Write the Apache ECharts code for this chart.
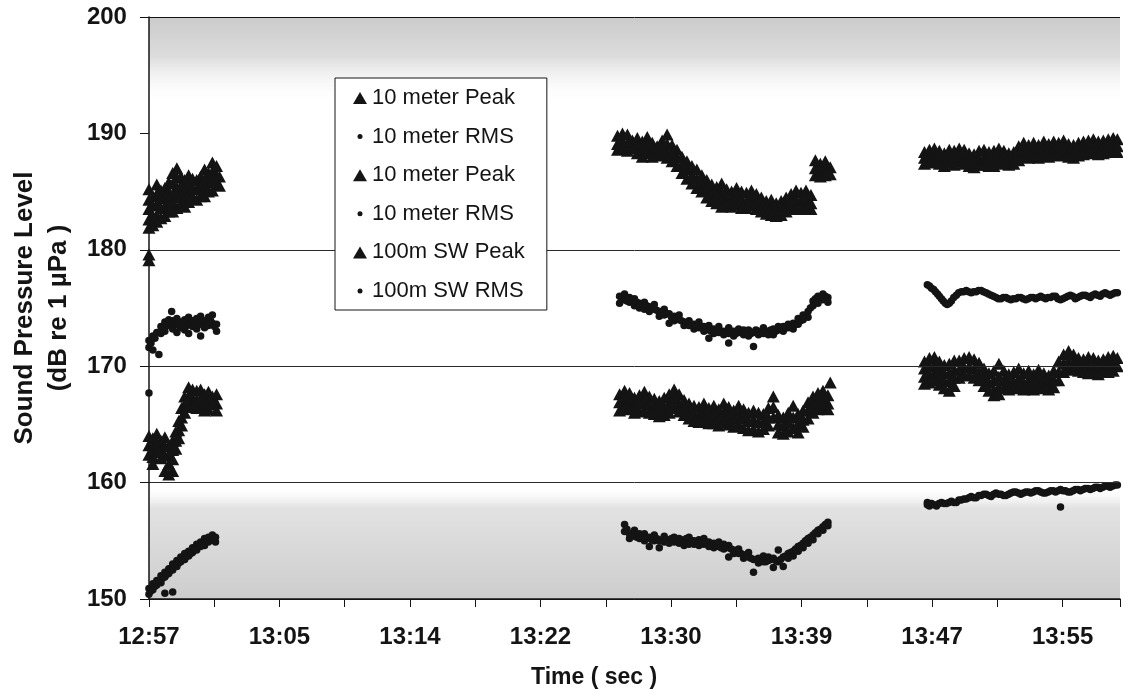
<!DOCTYPE html>
<html>
<head>
<meta charset="utf-8">
<script src="https://cdn.jsdelivr.net/npm/echarts@6/dist/echarts.min.js"></script>
<style>
  html, body { margin: 0; background: #fff; }
  #chart { width: 1123px; height: 696px; }
</style>
</head>
<body>
<div id="chart"></div>
<script>
// time axis in seconds from 12:57, one label every 500 s
const timeLabels = ["12:57", "13:05", "13:14", "13:22", "13:30", "13:39", "13:47", "13:55"];
const xMin = 0;
const xMax = 3720;

const seriesIds = ["peak10a", "rms10a", "peak10b", "rms10b", "peak100", "rms100"];
const legendLabels = ["10 meter Peak", "10 meter RMS", "10 meter Peak", "10 meter RMS", "100m SW Peak", "100m SW RMS"];

// rows: [time, level, level, ...]
const peakUpperSeg1 = [
  [0, 185.2, 184.3, 183.5, 182.6, 181.9, 179.6, 179.1], [15, 184.6, 183.8, 182.9, 182.1],
  [30, 185.6, 184.8, 183.9, 183.0, 182.4], [46, 185.1, 184.4, 183.6, 182.7],
  [61, 185.3, 184.5, 183.7, 182.9], [76, 185.8, 185.0, 184.2, 183.3],
  [91, 186.6, 185.7, 184.8, 184.0, 183.3], [107, 187.0, 186.2, 185.3, 184.5, 183.6],
  [122, 186.3, 185.5, 184.7, 183.9], [137, 186.0, 185.2, 184.4, 183.7],
  [152, 186.4, 185.6, 184.8, 184.1], [167, 186.1, 185.3, 184.6], [183, 186.0, 185.2, 184.3],
  [198, 186.3, 185.5, 184.6], [213, 186.9, 186.0, 185.2, 184.6], [228, 186.6, 185.8, 185.0],
  [243, 187.5, 186.7, 185.9, 185.1], [259, 187.2, 186.4, 185.6], [270, 186.3, 185.5]
];
const rmsUpperSeg1 = [
  [0, 171.6, 172.2, 167.7], [8, 172.0], [15, 172.6, 171.4], [23, 172.4], [30, 172.9], [38, 171.0],
  [46, 173.4, 172.8], [53, 173.1], [61, 173.8, 173.0], [68, 173.6], [76, 173.5, 174.0], [87, 174.7, 173.4],
  [91, 173.2, 173.9], [99, 173.6], [107, 173.6, 174.1, 172.9], [114, 173.5], [122, 173.8, 173.3],
  [130, 173.7], [137, 174.0, 173.1], [145, 173.5], [152, 173.7, 174.2, 172.8], [160, 173.6],
  [167, 173.4, 173.9], [175, 173.8], [183, 174.1, 173.2], [190, 173.7], [198, 173.6, 174.3, 172.6],
  [205, 173.8], [213, 173.9, 173.3], [220, 173.7], [228, 174.2, 173.5], [236, 173.9],
  [243, 173.7, 174.4], [251, 173.4], [259, 173.6, 173.0]
];
const peakLowerSeg1 = [
  [0, 164.0, 163.2, 162.4], [15, 163.8, 163.0, 162.2, 161.6], [30, 164.2, 163.4, 162.6],
  [46, 163.6, 162.8, 162.1], [61, 163.9, 163.1, 162.3, 161.0], [76, 163.2, 162.4, 161.6, 160.7],
  [91, 163.6, 162.8, 162.0, 161.0], [103, 164.4, 163.6, 162.9], [114, 165.3, 164.5, 163.8],
  [125, 166.4, 165.6, 164.9], [137, 167.4, 166.7, 166.0], [152, 168.2, 167.4, 166.6],
  [167, 168.0, 167.2, 166.5], [183, 167.9, 167.1, 166.4], [198, 168.0, 167.2, 166.5],
  [213, 167.6, 166.8, 166.2], [228, 167.8, 167.0, 166.3], [243, 167.4, 166.7],
  [259, 167.6, 166.8, 166.2]
];
const rmsLowerSeg1 = [
  [0, 150.4, 150.9], [8, 150.7], [15, 150.8, 151.3], [23, 151.1], [30, 151.2, 151.6], [38, 151.5],
  [46, 151.4, 152.0], [53, 151.8], [61, 151.9, 152.3, 150.5], [68, 152.1], [76, 152.2, 152.6],
  [84, 152.5], [91, 152.5, 153.0, 150.6], [99, 152.8], [107, 152.8, 153.3], [114, 153.1],
  [122, 153.2, 153.6], [130, 153.4], [137, 153.4, 153.9], [145, 153.7], [152, 153.7, 154.1],
  [160, 153.9], [167, 154.0, 154.4], [175, 154.3], [183, 154.2, 154.7], [190, 154.5],
  [198, 154.5, 154.9], [205, 154.7], [213, 154.6, 155.2], [220, 155.0], [228, 154.9, 155.3],
  [236, 155.1], [243, 155.1, 155.5], [255, 154.9, 155.3]
];

const peakUpperSeg2 = [
  [1795, 189.8, 189.1, 188.6], [1814, 190.0, 189.3, 188.7], [1833, 189.9, 189.2, 188.5],
  [1852, 189.4, 188.7], [1871, 189.6, 188.9, 188.3], [1890, 189.3, 188.6, 188.0],
  [1909, 189.7, 189.0, 188.3], [1928, 189.2, 188.5, 188.0], [1947, 188.9, 188.2],
  [1966, 189.4, 188.7, 188.1], [1985, 189.9, 189.1, 188.4, 187.9], [2004, 189.0, 188.3, 187.6],
  [2023, 188.6, 187.9, 187.2], [2042, 188.0, 187.3, 186.6], [2061, 187.6, 186.9, 186.1],
  [2080, 187.2, 186.4, 185.7], [2099, 186.9, 186.1, 185.3], [2118, 186.4, 185.7, 185.0],
  [2137, 186.0, 185.3, 184.5], [2156, 185.6, 184.9, 184.2], [2175, 185.4, 184.7, 184.0],
  [2194, 185.7, 184.9, 184.2, 183.7], [2213, 185.2, 184.5, 183.9], [2232, 185.0, 184.3, 183.7],
  [2251, 185.3, 184.6, 183.9], [2270, 185.0, 184.3, 183.6], [2289, 184.9, 184.2, 183.6],
  [2308, 185.1, 184.4, 183.8], [2327, 184.8, 184.1, 183.5], [2346, 184.5, 183.8, 183.3],
  [2365, 184.2, 183.6, 183.1], [2384, 184.3, 183.6, 183.0], [2403, 184.0, 183.4, 182.9],
  [2422, 184.2, 183.5, 183.0], [2441, 184.5, 183.8, 183.3], [2460, 184.8, 184.1, 183.5],
  [2479, 185.1, 184.3, 183.6], [2498, 184.9, 184.2, 183.5], [2517, 185.1, 184.4, 183.7],
  [2536, 184.7, 184.0, 183.5], [2553, 187.7, 187.0, 186.4], [2572, 187.4, 186.7, 186.3],
  [2591, 187.6, 186.9, 186.4], [2610, 187.1, 186.5]
];
const rmsUpperSeg2 = [
  [1803, 176.0, 175.4], [1812, 175.8], [1822, 175.7, 176.2], [1831, 175.6], [1841, 175.5, 175.9],
  [1850, 175.7], [1860, 175.8, 175.2], [1869, 175.5], [1879, 175.4, 175.0], [1888, 175.3],
  [1898, 175.5, 174.9], [1907, 175.2], [1917, 175.1, 174.7], [1926, 175.0], [1936, 174.9, 175.3],
  [1945, 174.8], [1955, 174.7, 174.3], [1964, 174.6], [1974, 174.4, 174.9], [1983, 174.5],
  [1993, 174.5, 173.7], [2002, 174.2], [2012, 174.3, 173.9], [2021, 174.1], [2031, 174.0, 174.4],
  [2040, 173.9], [2050, 173.8, 173.5], [2059, 173.7], [2069, 173.9, 173.5], [2078, 173.6],
  [2088, 173.6, 173.2], [2097, 173.5], [2107, 173.3, 173.8], [2116, 173.4], [2126, 173.4, 173.0],
  [2135, 173.2], [2145, 173.1, 173.5, 172.4], [2154, 173.0], [2164, 173.2, 172.8], [2173, 173.1],
  [2183, 172.9, 173.4], [2192, 173.0], [2202, 173.0, 172.7], [2211, 172.9], [2221, 172.8, 173.3, 172.0],
  [2230, 173.0], [2240, 173.0, 172.6], [2249, 172.8], [2259, 172.9, 173.2], [2268, 172.9],
  [2278, 172.7, 173.1], [2287, 172.9], [2297, 173.1, 172.6], [2306, 172.8], [2316, 172.9, 171.7],
  [2325, 173.1], [2335, 173.0, 172.7], [2344, 172.9], [2354, 172.8, 173.3], [2363, 173.0],
  [2373, 173.0, 172.7], [2382, 173.1], [2392, 173.2, 172.7], [2401, 173.0], [2411, 173.1, 173.4],
  [2420, 173.2], [2430, 173.4, 173.0], [2439, 173.3], [2449, 173.3, 173.6], [2458, 173.5],
  [2468, 173.7, 173.2], [2477, 173.6], [2487, 173.6, 174.1], [2496, 173.9], [2506, 174.0, 174.4],
  [2515, 174.3], [2525, 174.7, 174.2], [2534, 175.0], [2544, 175.6, 175.2], [2553, 175.8],
  [2563, 176.0, 175.4], [2572, 175.9], [2582, 175.7, 176.2], [2591, 176.0], [2601, 175.9, 175.5]
];
const peakLowerSeg2 = [
  [1803, 167.6, 166.9, 166.2], [1822, 167.9, 167.2, 166.5], [1841, 167.7, 167.0, 166.3],
  [1860, 167.3, 166.6, 166.0], [1879, 167.5, 166.8, 166.1], [1898, 167.8, 167.0, 166.2],
  [1917, 167.4, 166.7, 166.0], [1936, 167.2, 166.5, 165.9], [1955, 167.0, 166.3, 165.7],
  [1974, 167.3, 166.5, 165.8], [1993, 167.6, 166.8, 166.0], [2012, 168.0, 167.2, 166.4],
  [2031, 167.6, 166.8, 166.1], [2050, 167.1, 166.4, 165.8], [2069, 166.8, 166.1, 165.5],
  [2088, 166.6, 165.9, 165.3], [2107, 166.5, 165.8, 165.2], [2126, 166.8, 166.0, 165.3],
  [2145, 166.4, 165.7, 165.1], [2164, 166.6, 165.8, 165.1], [2183, 166.3, 165.6, 164.9],
  [2202, 166.8, 166.0, 165.2], [2221, 166.5, 165.7, 165.0], [2240, 166.2, 165.5, 164.8],
  [2259, 166.6, 165.8, 165.0], [2278, 166.3, 165.5, 164.7], [2297, 166.0, 165.3, 164.5],
  [2316, 166.2, 165.4, 164.6], [2335, 166.0, 165.2, 164.4], [2354, 165.9, 165.2, 164.6],
  [2373, 166.4, 165.6, 164.9], [2392, 167.4, 166.5, 165.6], [2411, 165.8, 165.0, 164.3],
  [2430, 165.6, 164.9, 164.2], [2449, 166.0, 165.2, 164.4], [2468, 166.6, 165.6, 164.7],
  [2487, 165.9, 165.1, 164.3], [2506, 166.2, 165.4, 164.8], [2525, 166.9, 166.2, 165.5],
  [2544, 167.4, 166.7, 166.0], [2563, 167.7, 167.0, 166.3], [2582, 167.9, 167.2, 166.5],
  [2601, 167.5, 166.8, 166.3], [2610, 168.6]
];
const rmsLowerSeg2 = [
  [1822, 156.4, 155.8], [1831, 156.0], [1841, 155.6, 155.2], [1850, 155.5], [1860, 155.4, 155.9],
  [1869, 155.3], [1879, 155.2, 155.6], [1888, 155.4], [1898, 155.6, 155.0], [1907, 155.2],
  [1917, 155.3, 154.5], [1926, 155.1], [1936, 155.5, 155.0], [1945, 155.2], [1955, 155.0, 154.4],
  [1964, 155.1], [1974, 155.4, 154.9], [1983, 155.0], [1993, 155.1, 154.8], [2002, 155.2],
  [2012, 155.3, 154.9], [2021, 155.0], [2031, 154.8, 155.2], [2040, 155.1], [2050, 155.0, 154.6],
  [2059, 155.2], [2069, 155.3, 154.7], [2078, 155.0], [2088, 155.0, 154.7], [2097, 154.9],
  [2107, 154.6, 155.1], [2116, 154.9], [2126, 155.2, 154.7], [2135, 154.9], [2145, 154.9, 154.5],
  [2154, 154.7], [2164, 154.8, 154.4], [2173, 154.6], [2183, 154.5, 154.9], [2192, 154.4],
  [2202, 154.3, 154.7], [2211, 154.4], [2221, 154.6, 153.6], [2230, 154.3], [2240, 154.2, 153.9],
  [2249, 154.0], [2259, 153.9, 154.3], [2268, 153.9], [2278, 153.8, 153.5], [2287, 153.7],
  [2297, 153.6, 154.0], [2306, 153.5], [2316, 153.4, 152.3], [2325, 153.4], [2335, 153.5, 153.1],
  [2344, 153.3], [2354, 153.2, 153.7], [2363, 153.2], [2373, 153.3, 153.6], [2382, 153.4],
  [2392, 153.5, 152.7], [2401, 153.3], [2411, 153.2, 154.2], [2420, 153.4], [2430, 153.6, 152.8],
  [2439, 153.7], [2449, 153.9, 153.5], [2458, 154.0], [2468, 154.1, 153.7], [2477, 154.3],
  [2487, 154.5, 154.1], [2496, 154.6], [2506, 154.8, 154.4], [2515, 155.0], [2525, 155.2, 154.8],
  [2534, 155.3], [2544, 155.5, 155.1], [2553, 155.7], [2563, 155.9, 155.6], [2572, 156.0],
  [2582, 156.2, 155.9], [2591, 156.4], [2601, 156.6, 156.3]
];

const peakUpperSeg3 = [
  [2971, 188.4, 187.9, 187.4], [2990, 188.6, 188.0, 187.5], [3009, 188.7, 188.1, 187.6],
  [3028, 188.5, 187.9, 187.4], [3047, 188.3, 187.7, 187.2], [3066, 188.6, 188.0, 187.5],
  [3085, 188.5, 187.9, 187.3], [3104, 188.7, 188.1, 187.6], [3123, 188.6, 187.9, 187.4],
  [3142, 188.3, 187.7, 187.2], [3161, 188.2, 187.6, 187.1], [3180, 188.5, 187.8, 187.3],
  [3199, 188.6, 187.9, 187.3], [3218, 188.4, 187.7, 187.2], [3237, 188.5, 187.8, 187.2],
  [3256, 188.7, 188.0, 187.5], [3275, 188.5, 187.9, 187.4], [3294, 188.3, 187.8, 187.3],
  [3313, 188.4, 187.8, 187.4], [3332, 188.9, 188.2, 187.7], [3351, 189.2, 188.5, 188.0],
  [3370, 189.0, 188.4, 187.9], [3389, 189.2, 188.5, 188.0], [3408, 189.0, 188.4, 187.9],
  [3428, 189.3, 188.6, 188.1], [3447, 189.1, 188.5, 188.0], [3466, 189.3, 188.7, 188.2],
  [3485, 189.2, 188.6, 188.1], [3504, 189.4, 188.8, 188.3], [3523, 189.1, 188.5, 188.0],
  [3542, 189.0, 188.4, 187.9], [3561, 189.2, 188.6, 188.1], [3580, 189.3, 188.7, 188.2],
  [3599, 189.4, 188.8, 188.3], [3618, 189.5, 188.9, 188.4], [3637, 189.3, 188.7, 188.2],
  [3656, 189.4, 188.8, 188.3], [3675, 189.5, 188.9, 188.4], [3694, 189.6, 189.0, 188.5],
  [3710, 189.5, 188.9, 188.4]
];
const rmsUpperSeg3 = [
  [2982, 177.0], [2990, 176.9], [2998, 176.7], [3006, 176.6], [3013, 176.4], [3021, 176.2],
  [3028, 176.0], [3036, 175.8], [3043, 175.6], [3051, 175.4], [3058, 175.3], [3066, 175.4],
  [3074, 175.6], [3083, 175.9], [3093, 176.1], [3102, 176.3], [3112, 176.4], [3121, 176.4],
  [3131, 176.5], [3140, 176.4], [3150, 176.3], [3159, 176.4], [3169, 176.4], [3178, 176.5],
  [3188, 176.5], [3197, 176.4], [3207, 176.3], [3216, 176.2], [3226, 176.1], [3235, 176.0],
  [3245, 175.9], [3254, 175.8], [3264, 175.8], [3273, 175.9], [3283, 175.9], [3292, 175.8],
  [3302, 175.7], [3311, 175.8], [3321, 175.8], [3330, 175.9], [3340, 175.9], [3349, 175.8],
  [3359, 175.7], [3368, 175.8], [3378, 175.9], [3387, 175.9], [3397, 175.8], [3406, 175.9],
  [3416, 176.0], [3425, 175.9], [3435, 175.8], [3444, 175.9], [3454, 175.9], [3463, 176.0],
  [3473, 176.0], [3482, 175.8], [3492, 175.7], [3501, 175.8], [3511, 175.9], [3520, 176.0],
  [3530, 176.1], [3539, 176.0], [3549, 175.8], [3558, 175.9], [3568, 176.0], [3577, 176.1],
  [3587, 176.1], [3596, 176.0], [3606, 175.9], [3615, 176.1], [3625, 176.2], [3634, 176.1],
  [3644, 176.0], [3653, 176.2], [3663, 176.3], [3672, 176.2], [3682, 176.1], [3691, 176.2],
  [3701, 176.3], [3710, 176.3]
];
const peakLowerSeg3 = [
  [2971, 170.4, 169.8, 169.1, 168.5], [2990, 170.7, 170.0, 169.3, 168.6], [3009, 170.8, 170.1, 169.4, 168.8],
  [3028, 170.4, 169.7, 169.0, 168.4], [3047, 170.1, 169.4, 168.7, 168.1], [3066, 170.2, 169.4, 168.7, 167.9],
  [3085, 170.5, 169.7, 169.0, 168.3], [3104, 170.5, 169.7, 169.0], [3123, 170.7, 169.9, 169.2],
  [3142, 170.8, 170.0, 169.3], [3161, 170.6, 169.8, 169.0], [3180, 170.3, 169.5, 168.8],
  [3199, 169.8, 169.0, 168.3], [3218, 169.4, 168.6, 167.9], [3237, 169.6, 168.8, 168.0, 167.5],
  [3256, 170.2, 169.1, 168.2, 167.6], [3275, 169.6, 168.8, 168.1], [3294, 169.3, 168.6, 168.0],
  [3313, 169.5, 168.7, 168.1], [3332, 169.8, 168.9, 168.2], [3351, 169.4, 168.6, 168.0],
  [3370, 169.6, 168.8, 168.2], [3389, 169.3, 168.6, 168.0], [3408, 169.7, 168.9, 168.2],
  [3428, 169.4, 168.7, 168.1], [3447, 169.2, 168.5, 168.0], [3466, 169.6, 168.8, 168.2],
  [3485, 170.4, 169.5, 168.8], [3504, 171.0, 170.2, 169.5], [3523, 171.3, 170.5, 169.8],
  [3542, 171.0, 170.3, 169.7], [3561, 170.7, 170.1, 169.6], [3580, 170.6, 170.0, 169.5],
  [3599, 170.8, 170.1, 169.4], [3618, 170.7, 170.0, 169.5], [3637, 170.5, 169.9, 169.3],
  [3656, 170.6, 170.0, 169.6], [3675, 170.8, 170.1, 169.5], [3694, 170.9, 170.2, 169.6],
  [3710, 170.7, 170.0]
];
const rmsLowerSeg3 = [
  [2982, 158.1, 158.3], [2990, 158.0], [2998, 158.2], [3008, 158.1], [3017, 158.0], [3027, 158.2],
  [3036, 158.3], [3046, 158.2], [3055, 158.2], [3065, 158.3], [3074, 158.4], [3084, 158.3],
  [3093, 158.3], [3103, 158.5], [3112, 158.5], [3122, 158.6], [3131, 158.6], [3141, 158.7],
  [3150, 158.8], [3160, 158.7], [3169, 158.7], [3179, 158.9], [3188, 158.9], [3198, 159.0],
  [3207, 159.0], [3217, 158.9], [3226, 158.8], [3236, 159.0], [3245, 159.1], [3255, 159.0],
  [3264, 159.0], [3274, 158.9], [3283, 158.9], [3293, 159.0], [3302, 159.1], [3312, 159.2],
  [3321, 159.2], [3331, 159.1], [3340, 159.0], [3350, 159.1], [3359, 159.2], [3369, 159.2],
  [3378, 159.1], [3388, 159.2], [3397, 159.3], [3407, 159.3], [3416, 159.2], [3426, 159.1],
  [3435, 159.1], [3445, 159.2], [3454, 159.3], [3464, 159.3], [3473, 159.2], [3483, 159.3],
  [3492, 159.4, 157.9], [3502, 159.3], [3511, 159.3], [3521, 159.2], [3530, 159.2], [3540, 159.3],
  [3549, 159.4], [3559, 159.4], [3568, 159.3], [3578, 159.4], [3587, 159.5], [3597, 159.5],
  [3606, 159.4], [3616, 159.5], [3625, 159.6], [3635, 159.6], [3644, 159.5], [3654, 159.6],
  [3663, 159.7], [3673, 159.7], [3682, 159.6], [3692, 159.7], [3701, 159.8], [3710, 159.8]
];

const expand = (...groups) =>
  groups.flat().flatMap(([t, ...levels]) => levels.map((v) => [t, v]));

const seriesData = {
  peak10a: expand(peakUpperSeg1, peakUpperSeg2),
  rms10a: expand(rmsUpperSeg1, rmsUpperSeg2),
  peak10b: expand(peakUpperSeg3),
  rms10b: expand(rmsUpperSeg3),
  peak100: expand(peakLowerSeg1, peakLowerSeg2, peakLowerSeg3),
  rms100: expand(rmsLowerSeg1, rmsLowerSeg2, rmsLowerSeg3),
};

const font = "'Liberation Sans', Arial, sans-serif";
const ink = "#141414";
// small dot inside a 14x12 box so the legend keeps it small
const dotIcon = "path://M0 0M14 12M7 3.5A2.5 2.5 0 1 1 7 8.5A2.5 2.5 0 1 1 7 3.5Z";

const chart = echarts.init(document.getElementById("chart"));

const series = seriesIds.map((id, i) => {
  const isPeak = id.startsWith("peak");
  const s = {
    name: id,
    type: "scatter",
    data: seriesData[id],
    symbol: isPeak ? "triangle" : "circle",
    symbolSize: isPeak ? [13, 12] : 7.5,
    itemStyle: { color: ink, opacity: 1 },
    emphasis: { disabled: true },
  };
  if (i === 0) {
    // scanner shading at top and bottom of the plot
    s.markArea = {
      silent: true,
      data: [
        [
          {
            xAxis: xMin, yAxis: 200,
            itemStyle: {
              color: {
                type: "linear", x: 0, y: 0, x2: 0, y2: 1,
                colorStops: [
                  { offset: 0, color: "#cbcbcb" },
                  { offset: 0.45, color: "#dcdcdc" },
                  { offset: 1, color: "rgba(255,255,255,0)" },
                ],
              },
            },
          },
          { xAxis: xMax, yAxis: 192.5 },
        ],
        [
          {
            xAxis: xMin, yAxis: 159.8,
            itemStyle: {
              color: {
                type: "linear", x: 0, y: 0, x2: 0, y2: 1,
                colorStops: [
                  { offset: 0, color: "rgba(255,255,255,0)" },
                  { offset: 0.2, color: "#e2e2e2" },
                  { offset: 1, color: "#cdcdcd" },
                ],
              },
            },
          },
          { xAxis: xMax, yAxis: 150 },
        ],
      ],
    };
  }
  return s;
});

const option = {
  animation: false,
  textStyle: { fontFamily: font },
  title: {
    text: "Time ( sec )",
    left: 526,
    top: 661,
    textStyle: { fontFamily: font, fontSize: 23, fontWeight: "bold", color: ink },
  },
  grid: { left: 144, right: 0, top: 17, bottom: 97 },
  legend: {
    orient: "vertical",
    left: 335,
    top: 78,
    padding: [9, 22, 8, 18],
    itemGap: 16.6,
    itemWidth: 14,
    itemHeight: 12,
    backgroundColor: "#fff",
    borderColor: ink,
    borderWidth: 1,
    selectedMode: false,
    textStyle: { fontFamily: font, fontSize: 22, color: ink, lineHeight: 22 },
    data: seriesIds.map((id) => ({
      name: id,
      icon: id.startsWith("peak") ? "triangle" : dotIcon,
      itemStyle: { color: ink },
    })),
    formatter: (name) => legendLabels[seriesIds.indexOf(name)],
  },
  xAxis: {
    type: "value",
    min: xMin,
    max: xMax,
    interval: 250,
    z: 3,
    axisLine: { lineStyle: { color: ink, width: 1.5 } },
    axisTick: { show: true, length: 8, lineStyle: { color: ink } },
    axisLabel: {
      color: ink,
      fontFamily: font,
      fontSize: 24,
      fontWeight: "bold",
      margin: 26,
      formatter: (v) => (v % 500 === 0 && timeLabels[v / 500]) || "",
    },
    splitLine: { show: false },
  },
  yAxis: {
    type: "value",
    min: 150,
    max: 200,
    interval: 10,
    z: 3,
    name: "Sound Pressure Level\n(dB re 1 µPa )",
    nameLocation: "middle",
    nameRotate: 90,
    nameGap: 70,
    nameTextStyle: { fontFamily: font, fontSize: 26, fontWeight: "bold", color: ink, lineHeight: 34 },
    axisLine: { show: true, lineStyle: { color: ink, width: 1.5 } },
    axisTick: { show: true, length: 9, lineStyle: { color: ink } },
    axisLabel: { color: ink, fontFamily: font, fontSize: 24, fontWeight: "bold", margin: 22 },
    splitLine: {
      show: true,
      lineStyle: {
        width: 1,
        // 150 .. 200: no line drawn at 190 in the original
        color: [ink, "#2a2a2a", "#2a2a2a", "#2a2a2a", "rgba(0,0,0,0)", ink],
      },
    },
  },
  series,
};

chart.setOption(option);
</script>
</body>
</html>
